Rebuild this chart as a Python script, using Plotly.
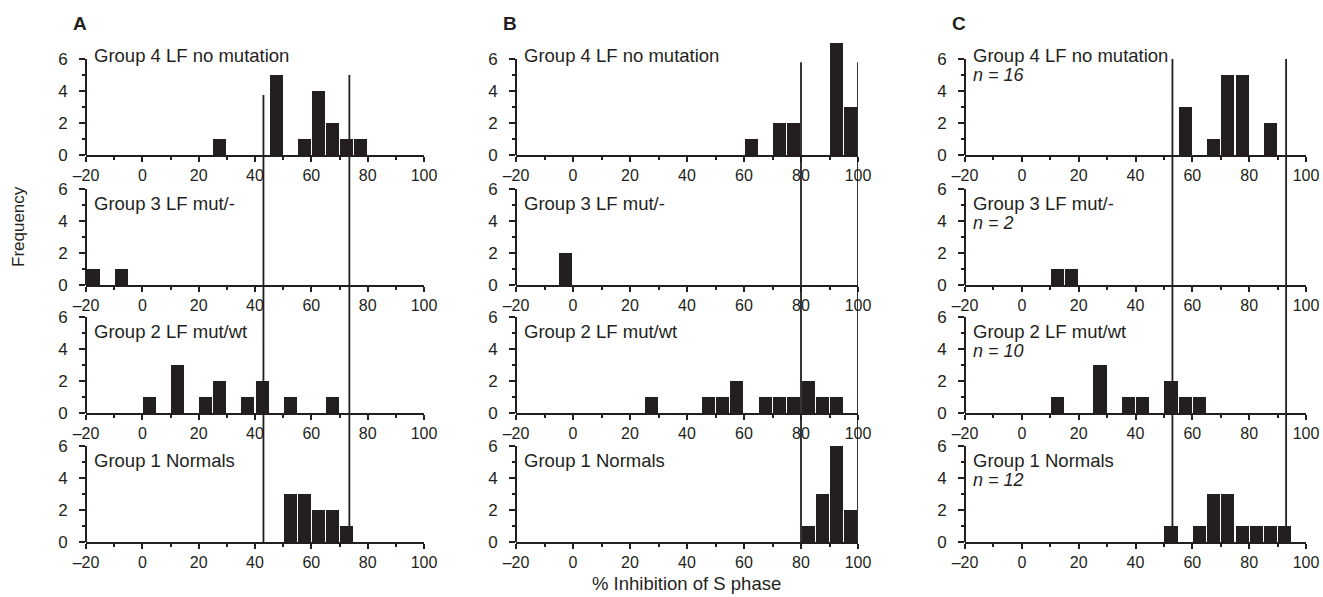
import plotly.graph_objects as go

# ---------------- data ----------------
group_labels = ["Group 4 LF no mutation", "Group 3 LF mut/-", "Group 2 LF mut/wt", "Group 1 Normals"]
n_labels_c = ["n = 16", "n = 2", "n = 10", "n = 12"]
panel_letters = ["A", "B", "C"]
x_ticks = [-20, 0, 20, 40, 60, 80, 100]
y_ticks = [0, 2, 4, 6]
bin_width = 5

# Panel A (bin centres, counts) rows: group 4, 3, 2, 1
a_g4_x = [27.5, 47.5, 57.5, 62.5, 67.5, 72.5, 77.5]
a_g4_y = [1, 5, 1, 4, 2, 1, 1]
a_g3_x = [-17.5, -7.5]
a_g3_y = [1, 1]
a_g2_x = [2.5, 12.5, 22.5, 27.5, 37.5, 42.5, 52.5, 67.5]
a_g2_y = [1, 3, 1, 2, 1, 2, 1, 1]
a_g1_x = [52.5, 57.5, 62.5, 67.5, 72.5]
a_g1_y = [3, 3, 2, 2, 1]

# Panel B
b_g4_x = [62.5, 72.5, 77.5, 92.5, 97.5]
b_g4_y = [1, 2, 2, 7, 3]
b_g3_x = [-2.5]
b_g3_y = [2]
b_g2_x = [27.5, 47.5, 52.5, 57.5, 67.5, 72.5, 77.5, 82.5, 87.5, 92.5]
b_g2_y = [1, 1, 1, 2, 1, 1, 1, 2, 1, 1]
b_g1_x = [82.5, 87.5, 92.5, 97.5]
b_g1_y = [1, 3, 6, 2]

# Panel C
c_g4_x = [57.5, 67.5, 72.5, 77.5, 87.5]
c_g4_y = [3, 1, 5, 5, 2]
c_g3_x = [12.5, 17.5]
c_g3_y = [1, 1]
c_g2_x = [12.5, 27.5, 37.5, 42.5, 52.5, 57.5, 62.5]
c_g2_y = [1, 3, 1, 1, 2, 1, 1]
c_g1_x = [52.5, 62.5, 67.5, 72.5, 77.5, 82.5, 87.5, 92.5]
c_g1_y = [1, 1, 3, 3, 1, 1, 1, 1]

# reference lines (x position, height reached in the top panel)
a_lines_x = [43, 73.5]
a_lines_top = [3.75, 5.0]
b_lines_x = [80, 100]
b_lines_top = [5.8, 5.8]
c_lines_x = [53, 93]
c_lines_top = [6.0, 6.0]

panels = [
    [(a_g4_x, a_g4_y), (a_g3_x, a_g3_y), (a_g2_x, a_g2_y), (a_g1_x, a_g1_y)],
    [(b_g4_x, b_g4_y), (b_g3_x, b_g3_y), (b_g2_x, b_g2_y), (b_g1_x, b_g1_y)],
    [(c_g4_x, c_g4_y), (c_g3_x, c_g3_y), (c_g2_x, c_g2_y), (c_g1_x, c_g1_y)],
]
lines = [(a_lines_x, a_lines_top), (b_lines_x, b_lines_top), (c_lines_x, c_lines_top)]

# ---------------- layout geometry ----------------
W, H = 1323, 597
col_px = [(86, 424), (516, 858), (965, 1306)]
row_zero_px = [155, 285, 413, 542]
px_per_unit = 16.0
y_max = 7.0
col_dom = [[a / W, b / W] for a, b in col_px]
row_dom = [[1 - z / H, 1 - (z - px_per_unit * y_max) / H] for z in row_zero_px]

FONT = "Liberation Sans, Arial, sans-serif"
INK = "#231f20"

fig = go.Figure()
layout = {}
annotations = []
shapes = []

for c in range(3):
    for r in range(4):
        idx = r * 3 + c + 1
        xs = "" if idx == 1 else str(idx)
        xa, ya = "x" + xs, "y" + xs
        bx, by = panels[c][r]
        fig.add_trace(go.Bar(x=bx, y=by, width=[bin_width * 0.92] * len(bx),
                             marker=dict(color=INK, line=dict(width=0)),
                             xaxis=xa, yaxis=ya, showlegend=False, hoverinfo="x+y"))
        layout["xaxis" + xs] = dict(
            domain=col_dom[c], anchor=ya, range=[-20, 100], automargin=False,
            tickvals=x_ticks, ticktext=[("\u2013" + str(-v)) if v < 0 else str(v) for v in x_ticks],
            ticks="outside", ticklen=5, tickwidth=2, tickcolor=INK,
            minor=dict(dtick=10, tick0=-10, ticks="outside", ticklen=3, tickwidth=2, tickcolor=INK),
            showline=True, linecolor=INK, linewidth=2, showgrid=False, zeroline=False,
            tickfont=dict(family=FONT, size=16, color=INK), fixedrange=True)
        layout["yaxis" + xs] = dict(
            domain=row_dom[r], anchor=xa, range=[0, y_max], automargin=False,
            tickvals=y_ticks, ticks="outside", ticklen=6, tickwidth=2, tickcolor=INK,
            minor=dict(tickvals=[1, 3, 5], ticks="outside", ticklen=3, tickwidth=2, tickcolor=INK),
            showline=False, showgrid=False, zeroline=False, ticklabelstandoff=8,
            tickfont=dict(family=FONT, size=17, color=INK), fixedrange=True)
        # y axis line up to 6
        shapes.append(dict(type="line", xref=xa + " domain", yref=ya, x0=0, x1=0, y0=0, y1=6,
                           line=dict(color=INK, width=2)))
        annotations.append(dict(text=group_labels[r], x=-18, y=6.25 if r == 0 else 5.1,
                                xref=xa, yref=ya, xanchor="left", yanchor="middle", showarrow=False,
                                font=dict(family=FONT, size=18.5, color=INK)))
        if c == 2:
            annotations.append(dict(text="<i>" + n_labels_c[r] + "</i>", x=-18, y=5.0 if r == 0 else 3.9,
                                    xref=xa, yref=ya, xanchor="left", yanchor="middle", showarrow=False,
                                    font=dict(family=FONT, size=18, color=INK)))
    # vertical reference lines spanning the column
    top_x = "x" + ("" if c == 0 else str(c + 1))
    lx, ltop = lines[c]
    for xv, tv in zip(lx, ltop):
        y_top = row_dom[0][0] + tv / y_max * (row_dom[0][1] - row_dom[0][0])
        shapes.append(dict(type="line", xref=top_x, yref="paper", x0=xv, x1=xv,
                           y0=row_dom[3][0], y1=y_top, line=dict(color=INK, width=1.8)))
    annotations.append(dict(text="<b>" + panel_letters[c] + "</b>", xref="paper", yref="paper",
                            x=(col_px[c][0] - 6) / W, y=1 - 23 / H, xanchor="center", yanchor="middle",
                            showarrow=False, font=dict(family=FONT, size=19, color=INK)))

annotations.append(dict(text="Frequency", xref="paper", yref="paper", x=18 / W, y=1 - 227 / H,
                        textangle=-90, showarrow=False, xanchor="center", yanchor="middle",
                        font=dict(family=FONT, size=17, color=INK)))
annotations.append(dict(text="% Inhibition of S phase", xref="paper", yref="paper",
                        x=(col_px[1][0] + col_px[1][1]) / 2 / W, y=1 - 583 / H,
                        showarrow=False, xanchor="center", yanchor="middle",
                        font=dict(family=FONT, size=18.5, color=INK)))

fig.update_layout(width=W, height=H, margin=dict(l=0, r=0, t=0, b=0, autoexpand=False),
                  paper_bgcolor="white", plot_bgcolor="rgba(0,0,0,0)",
                  annotations=annotations, shapes=shapes, bargap=0, **layout)
fig.write_html("out.html", config={"displayModeBar": False},
               post_script="document.body.style.margin='0px';document.body.style.overflow='hidden';")
